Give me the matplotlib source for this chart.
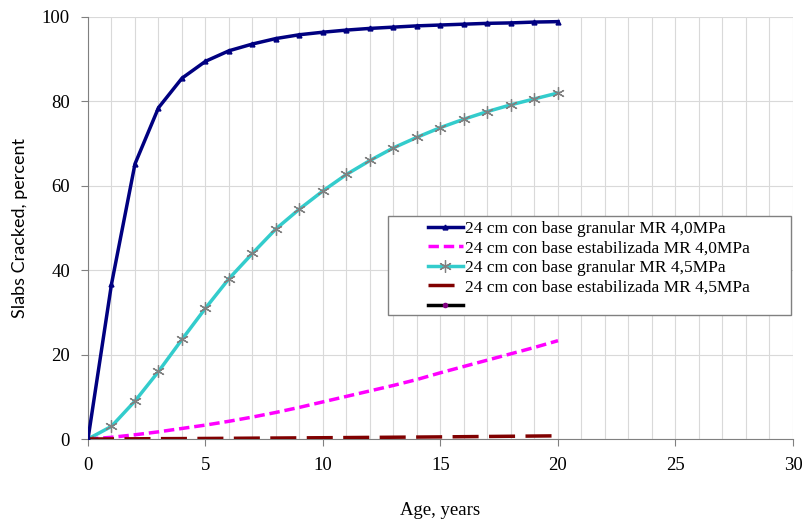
import matplotlib.pyplot as plt
from matplotlib.patches import Rectangle
import numpy as np

plt.rcParams['font.family'] = ['Liberation Serif', 'DejaVu Serif']

years = list(range(0, 21))
gran_40 = [0, 36.7, 65.2, 78.5, 85.5, 89.5, 92.0, 93.6, 94.9, 95.8, 96.4,
           96.9, 97.3, 97.6, 97.9, 98.1, 98.3, 98.5, 98.6, 98.8, 98.9]
estab_40 = [0, 0.4, 1.0, 1.7, 2.5, 3.3, 4.2, 5.2, 6.3, 7.5, 8.8,
            10.1, 11.4, 12.7, 14.1, 15.7, 17.2, 18.7, 20.2, 21.7, 23.3]
gran_45 = [0, 3.0, 9.0, 16.0, 23.6, 31.0, 38.0, 44.0, 49.8, 54.5, 58.8,
           62.7, 66.0, 69.0, 71.5, 73.8, 75.8, 77.6, 79.2, 80.6, 82.0]
estab_45 = [0, 0.02, 0.05, 0.08, 0.1, 0.13, 0.16, 0.2, 0.23, 0.27, 0.3,
            0.34, 0.38, 0.42, 0.46, 0.5, 0.55, 0.6, 0.65, 0.7, 0.75]
labels = ['24 cm con base granular MR 4,0MPa',
          '24 cm con base estabilizada MR 4,0MPa',
          '24 cm con base granular MR 4,5MPa',
          '24 cm con base estabilizada MR 4,5MPa',
          ' ']

fig = plt.figure(figsize=(8.03, 5.21), dpi=100)
ax = fig.add_axes([88 / 803, 82 / 521, 705 / 803, 422 / 521])

ax.plot(years, gran_40, color='#000080', lw=2.5, marker='^', ms=3.5,
        label=labels[0], zorder=5)
ax.plot(years, estab_40, color='#ff00ff', lw=2.5, ls=(0, (3, 1.4)),
        label=labels[1], zorder=4)
ax.plot(years, gran_45, color='#33cccc', lw=2.5, marker=(6, 2, 0), ms=9,
        mec='#808080', mew=0.9, label=labels[2], zorder=4)
ax.plot(years, estab_45, color='#800000', lw=2.5, ls=(0, (7.5, 3)),
        label=labels[3], zorder=4)
ax.plot([], [], color='black', lw=2.5, marker='o', ms=3, mfc='#800080',
        mec='#800080', label=labels[4])

ax.set_xlim(0, 30)
ax.set_ylim(0, 100)
ax.set_xticks(np.arange(0, 31, 5))
ax.set_xticks(np.arange(0, 31, 1), minor=True)
ax.set_yticks(np.arange(0, 101, 20))
ax.grid(True, which='both', axis='x', color='#d9d9d9', lw=0.8)
ax.grid(True, which='major', axis='y', color='#d9d9d9', lw=0.8)
ax.set_axisbelow(True)
ax.tick_params(which='minor', length=0)
ax.tick_params(which='major', direction='out', length=5, color='#808080',
               labelsize=13.5, pad=8)
for s in ['top', 'right']:
    ax.spines[s].set_visible(False)
for s in ['left', 'bottom']:
    ax.spines[s].set_color('#808080')

ax.set_xlabel('Age, years', fontsize=13.5, labelpad=20)
ax.set_ylabel('Slabs Cracked, percent', fontsize=13, labelpad=10,
              family=['Lato', 'DejaVu Sans'])

# legend box drawn separately so it can be wider than its entries
ax.add_patch(Rectangle((0.4255, 0.294), 0.5715, 0.234, transform=ax.transAxes,
                       facecolor='white', edgecolor='#808080', lw=1.0,
                       zorder=6, clip_on=False))
leg = ax.legend(loc='upper left', bbox_to_anchor=(0.475, 0.53),
                fontsize=12.5, frameon=False, handlelength=2.0,
                handletextpad=0.1, labelspacing=0.2, borderpad=0.3,
                borderaxespad=0)
leg.set_zorder(7)

fig.savefig('out.png', dpi=100)
